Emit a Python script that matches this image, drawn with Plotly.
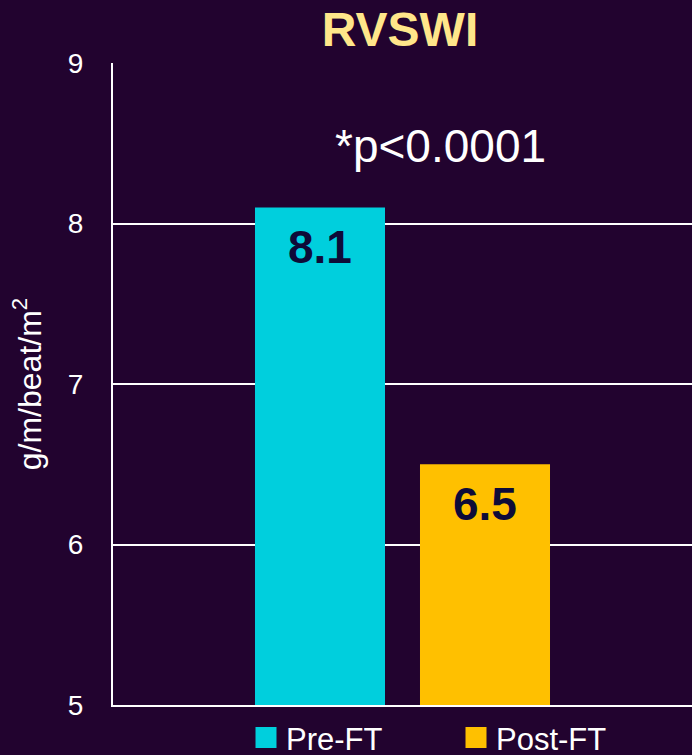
import plotly.graph_objects as go

# Data
groups = ["Pre-FT", "Post-FT"]
values = [8.1, 6.5]
bar_colors = ["#00CFDD", "#FFC000"]
y_ticks = [5, 6, 7, 8, 9]
p_text = "*p<0.0001"
chart_title = "RVSWI"
y_title = "g/m/beat/m<sup>2</sup>"

BG = "#22032F"
FONT = "Liberation Sans, Arial, sans-serif"

fig = go.Figure()
for g, v, c in zip(groups, values, bar_colors):
    fig.add_trace(go.Bar(
        x=[g], y=[v], name=g, width=0.788, showlegend=False,
        marker=dict(color=c, line=dict(width=0)),
        hoverinfo="skip",
    ))
    fig.add_annotation(
        x=g, y=v, xref="x", yref="y", text=f"<b>{v}</b>",
        showarrow=False, yanchor="middle", yshift=-40,
        font=dict(family=FONT, size=46, color="#0E0B38"),
    )
# legend entries (larger square swatches)
for g, c in zip(groups, bar_colors):
    fig.add_trace(go.Scatter(
        x=[None], y=[None], name=g, mode="markers", showlegend=True,
        marker=dict(symbol="square", size=16, color=c, line=dict(width=5, color=c)),
        hoverinfo="skip",
    ))

fig.add_annotation(
    x=(440 - 113) / 579, y=(705 - 146) / 642, xref="paper", yref="paper",
    text=p_text, showarrow=False, xanchor="center", yanchor="middle",
    font=dict(family=FONT, size=46, color="white"),
)

fig.update_layout(
    width=692, height=755,
    margin=dict(l=113, r=0, t=63, b=50, autoexpand=False),
    paper_bgcolor=BG, plot_bgcolor=BG,
    barmode="overlay",
    showlegend=True,
    title=dict(
        text=f"<b>{chart_title}</b>", x=400 / 692, xanchor="center",
        y=1 - 29 / 755, yanchor="middle", yref="container",
        font=dict(family=FONT, size=48, color="#FFE68A"),
    ),
    legend=dict(
        orientation="h", x=(246 - 113) / 579, xanchor="left",
        y=-0.009, yanchor="top", entrywidth=165, entrywidthmode="pixels",
        font=dict(family=FONT, size=31, color="white"),
        bgcolor="rgba(0,0,0,0)", itemclick=False, itemdoubleclick=False,
        tracegroupgap=0,
    ),
    font=dict(family=FONT, color="white"),
)

fig.update_xaxes(
    type="category", range=[-1.2545, 2.2545], showticklabels=False,
    showgrid=False, zeroline=False, fixedrange=True,
    showline=True, linecolor="white", linewidth=2,
)
fig.update_yaxes(
    range=[5, 9], tickvals=y_ticks, ticktext=[str(t) for t in y_ticks],
    showgrid=True, gridcolor="white", gridwidth=2,
    showline=True, linecolor="white", linewidth=2, mirror=False,
    zeroline=False, ticks="", ticklabelstandoff=22,
    tickfont=dict(family=FONT, size=28, color="white"),
    title=dict(text=y_title, font=dict(family=FONT, size=32, color="white"), standoff=17),
    fixedrange=True,
)

fig.write_html("out.html", config={"displayModeBar": False})
